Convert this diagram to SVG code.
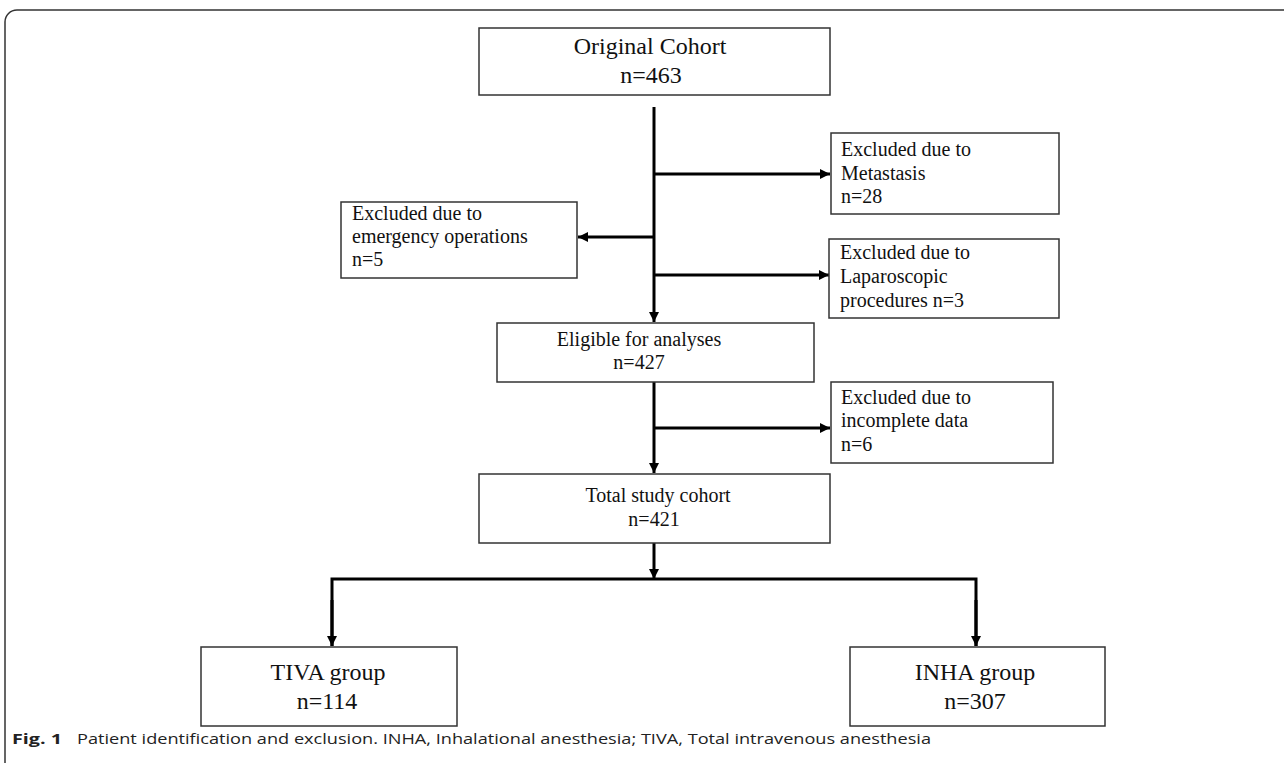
<svg xmlns="http://www.w3.org/2000/svg" width="1284" height="763" viewBox="0 0 1284 763">
<defs>
<marker id="ah" markerUnits="userSpaceOnUse" markerWidth="12" markerHeight="10" refX="10" refY="5" orient="auto">
<path d="M0,0 L10,5 L0,10 Z" fill="#000"/>
</marker>
<style>
.box{fill:#fff;stroke:#333;stroke-width:1.5}
.t{font-family:"Liberation Serif","Times New Roman",serif;fill:#111}
.t24{font-size:24px}
.t20{font-size:20px}
.c{stroke:#000;stroke-width:3;fill:none}
.cap{font-family:"Open Sans","Noto Sans","Liberation Sans",sans-serif;font-size:15px;fill:#222}
</style>
</defs>
<rect x="0" y="0" width="1284" height="763" fill="#fff"/>
<rect x="5" y="10" width="1300" height="800" rx="12" ry="12" fill="none" stroke="#333" stroke-width="1.5"/>

<g id="connectors">
<line class="c" x1="654" y1="107" x2="654" y2="322" marker-end="url(#ah)"/>
<line class="c" x1="654" y1="174" x2="830" y2="174" marker-end="url(#ah)"/>
<line class="c" x1="654" y1="237" x2="578" y2="237" marker-end="url(#ah)"/>
<line class="c" x1="654" y1="275" x2="829" y2="275" marker-end="url(#ah)"/>
<line class="c" x1="654" y1="382" x2="654" y2="473" marker-end="url(#ah)"/>
<line class="c" x1="654" y1="428" x2="830" y2="428" marker-end="url(#ah)"/>
<line class="c" x1="654" y1="543" x2="654" y2="579" marker-end="url(#ah)"/>
<polyline class="c" points="332,646 332,579 976,579 976,646"/>
<line class="c" x1="332" y1="600" x2="332" y2="646" marker-end="url(#ah)"/>
<line class="c" x1="976" y1="600" x2="976" y2="646" marker-end="url(#ah)"/>
</g>

<g id="original">
<rect class="box" x="479" y="28" width="351" height="67"/>
<text class="t t24" x="650" y="54" text-anchor="middle">Original Cohort</text>
<text class="t t24" x="651" y="83" text-anchor="middle">n=463</text>
</g>

<g id="metastasis">
<rect class="box" x="831" y="133" width="228" height="81"/>
<text class="t t20" x="841" y="156">Excluded due to</text>
<text class="t t20" x="841" y="180">Metastasis</text>
<text class="t t20" x="841" y="203">n=28</text>
</g>

<g id="emergency">
<rect class="box" x="341" y="202" width="236" height="76"/>
<text class="t t20" x="352" y="220">Excluded due to</text>
<text class="t t20" x="352" y="243">emergency operations</text>
<text class="t t20" x="352" y="266">n=5</text>
</g>

<g id="laparoscopic">
<rect class="box" x="829" y="239" width="230" height="79"/>
<text class="t t20" x="840" y="259">Excluded due to</text>
<text class="t t20" x="840" y="283">Laparoscopic</text>
<text class="t t20" x="840" y="307">procedures n=3</text>
</g>

<g id="eligible">
<rect class="box" x="497" y="323" width="317" height="59"/>
<text class="t t20" x="639" y="346" text-anchor="middle">Eligible for analyses</text>
<text class="t t20" x="639" y="369" text-anchor="middle">n=427</text>
</g>

<g id="incomplete">
<rect class="box" x="831" y="382" width="222" height="81"/>
<text class="t t20" x="841" y="404">Excluded due to</text>
<text class="t t20" x="841" y="427">incomplete data</text>
<text class="t t20" x="841" y="451">n=6</text>
</g>

<g id="total">
<rect class="box" x="479" y="474" width="351" height="69"/>
<text class="t t20" x="658" y="502" text-anchor="middle">Total study cohort</text>
<text class="t t20" x="654" y="526" text-anchor="middle">n=421</text>
</g>

<g id="tiva">
<rect class="box" x="201" y="647" width="256" height="79"/>
<text class="t t24" x="328" y="680" text-anchor="middle">TIVA group</text>
<text class="t t24" x="327" y="709" text-anchor="middle">n=114</text>
</g>

<g id="inha">
<rect class="box" x="850" y="647" width="255" height="79"/>
<text class="t t24" x="975" y="680" text-anchor="middle">INHA group</text>
<text class="t t24" x="975" y="709" text-anchor="middle">n=307</text>
</g>

<g id="caption">
<text class="cap" x="12" y="744" font-size="16" font-weight="bold" textLength="50" lengthAdjust="spacingAndGlyphs">Fig. 1</text>
<text class="cap" x="77" y="744" textLength="854" lengthAdjust="spacingAndGlyphs">Patient identification and exclusion. INHA, Inhalational anesthesia; TIVA, Total intravenous anesthesia</text>
</g>
</svg>
